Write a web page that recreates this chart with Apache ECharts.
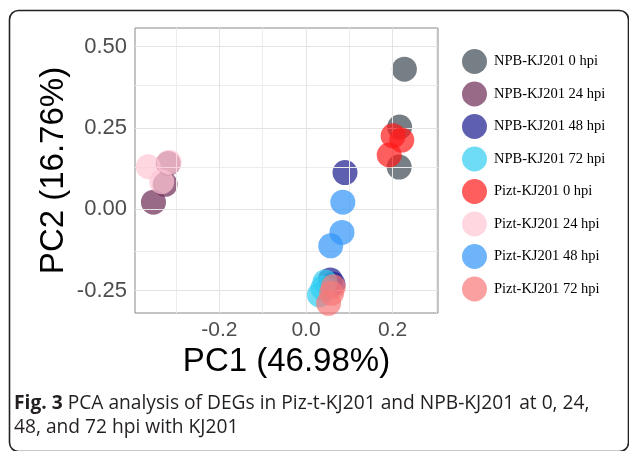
<!DOCTYPE html>
<html>
<head>
<meta charset="utf-8">
<script src="https://cdn.jsdelivr.net/npm/echarts@6/dist/echarts.min.js"></script>
<style>
html,body{margin:0;padding:0;background:#fff;}
#chart{width:629px;height:451px;}
</style>
</head>
<body>
<div id="chart"></div>
<script>
// ---- data (PC1, PC2) ----
const seriesNames = ["NPB-KJ201 0 hpi","NPB-KJ201 24 hpi","NPB-KJ201 48 hpi","NPB-KJ201 72 hpi",
  "Pizt-KJ201 0 hpi","Pizt-KJ201 24 hpi","Pizt-KJ201 48 hpi","Pizt-KJ201 72 hpi"];
const npb0   = [[0.227,0.431],[0.216,0.253],[0.215,0.130]];
const npb24  = [[-0.352,0.022],[-0.325,0.077],[-0.318,0.141]];
const npb48  = [[0.090,0.113],[0.056,-0.217],[0.062,-0.230]];
const npb72  = [[0.044,-0.223],[0.031,-0.263],[0.039,-0.242]];
const pizt0  = [[0.201,0.226],[0.221,0.213],[0.192,0.167]];
const pizt24 = [[-0.364,0.131],[-0.333,0.085],[-0.316,0.145]];
const pizt48 = [[0.085,0.022],[0.083,-0.071],[0.057,-0.112]];
const pizt72 = [[0.059,-0.258],[0.052,-0.289],[0.063,-0.238]];
const xTicks = [-0.2, 0.0, 0.2];
const yTicks = [-0.25, 0.00, 0.25, 0.50];
const xMinor = [-0.3, -0.1, 0.1, 0.3];
const yMinor = [-0.125, 0.125, 0.375];
const xTitle = "PC1 (46.98%)";
const yTitle = "PC2 (16.76%)";
const captionBold = "Fig. 3";
const captionLine1 = " PCA analysis of DEGs in Piz-t-KJ201 and NPB-KJ201 at 0, 24,";
const captionLine2 = "48, and 72 hpi with KJ201";

const allData = [npb0, npb24, npb48, npb72, pizt0, pizt24, pizt48, pizt72];
const colors = ["#3d4852","#6e2a55","#1b1b8d","#30cdf1","#ff1a1a","#ffc6d4","#3094f8","#f87777"];

const chart = echarts.init(document.getElementById('chart'), null, {renderer:'canvas'});

const gridMarks = [];
xMinor.forEach(v => gridMarks.push({xAxis: v, lineStyle:{color:'#ececec', width:1}}));
yMinor.forEach(v => gridMarks.push({yAxis: v, lineStyle:{color:'#ececec', width:1}}));
xTicks.forEach(v => gridMarks.push({xAxis: v, lineStyle:{color:'#e3e3e3', width:1}}));
yTicks.forEach(v => gridMarks.push({yAxis: v, lineStyle:{color:'#e3e3e3', width:1}}));

const series = [{
  type:'scatter', name:'grid', data:[], z:1, silent:true,
  markLine:{silent:true, symbol:'none', animation:false, label:{show:false},
    lineStyle:{type:'solid'}, data: gridMarks}
}];
allData.forEach((d,i) => series.push({
  type:'scatter', name: seriesNames[i], data: d, symbol:'circle', symbolSize:25, z:2+i,
  itemStyle:{color: colors[i], opacity:0.7}
}));

const option = {
  animation:false,
  backgroundColor:'#ffffff',
  grid:{left:135, right:191, top:28, bottom:138, show:true, borderColor:'#888888', borderWidth:1, backgroundColor:'#ffffff'},
  xAxis:{
    type:'value', min:-0.3946, max:0.3046,
    name:xTitle, nameLocation:'middle', nameGap:32,
    nameTextStyle:{fontFamily:'Liberation Sans', fontSize:33, color:'#000'},
    axisLine:{show:false},
    axisTick:{show:true, length:4, lineStyle:{color:'#333'}, customValues:xTicks},
    axisLabel:{customValues:xTicks, fontFamily:'Liberation Sans', fontSize:21, color:'#4d4d4d', margin:7,
      formatter: v => v.toFixed(1)},
    splitLine:{show:false}
  },
  yAxis:{
    type:'value', min:-0.3186, max:0.5575,
    name:yTitle, nameLocation:'middle', nameGap:65,
    nameTextStyle:{fontFamily:'Liberation Sans', fontSize:33, color:'#000'},
    axisLine:{show:false},
    axisTick:{show:true, length:4, lineStyle:{color:'#333'}, customValues:yTicks},
    axisLabel:{customValues:yTicks, fontFamily:'Liberation Sans', fontSize:22, color:'#4d4d4d', margin:8,
      formatter: v => v.toFixed(2)},
    splitLine:{show:false}
  },
  legend:{
    data: seriesNames, orient:'vertical', left:457, top:44,
    itemWidth:25, itemHeight:25, itemGap:7.5, icon:'circle',
    textStyle:{fontFamily:'Liberation Serif', fontSize:14.5, color:'#000', padding:[0,0,0,2]}
  },
  graphic:[
    {type:'rect', shape:{x:9.5, y:10.5, width:619, height:441, r:9}, style:{fill:'none', stroke:'#222', lineWidth:1.6}, z:100, silent:true},
    {type:'text', left:14, top:394, z:100, silent:true,
      style:{text:'{b|'+captionBold+'}{n|'+captionLine1+'}', rich:{
        b:{fontFamily:'Open Sans', fontWeight:'bold', fontSize:19.2, fill:'#231f20'},
        n:{fontFamily:'Open Sans', fontSize:19.2, fill:'#231f20'}}}},
    {type:'text', left:14, top:418, z:100, silent:true,
      style:{text:captionLine2, fontFamily:'Open Sans', fontSize:19.2, fill:'#231f20'}}
  ],
  series: series
};
chart.setOption(option);
</script>
</body>
</html>
